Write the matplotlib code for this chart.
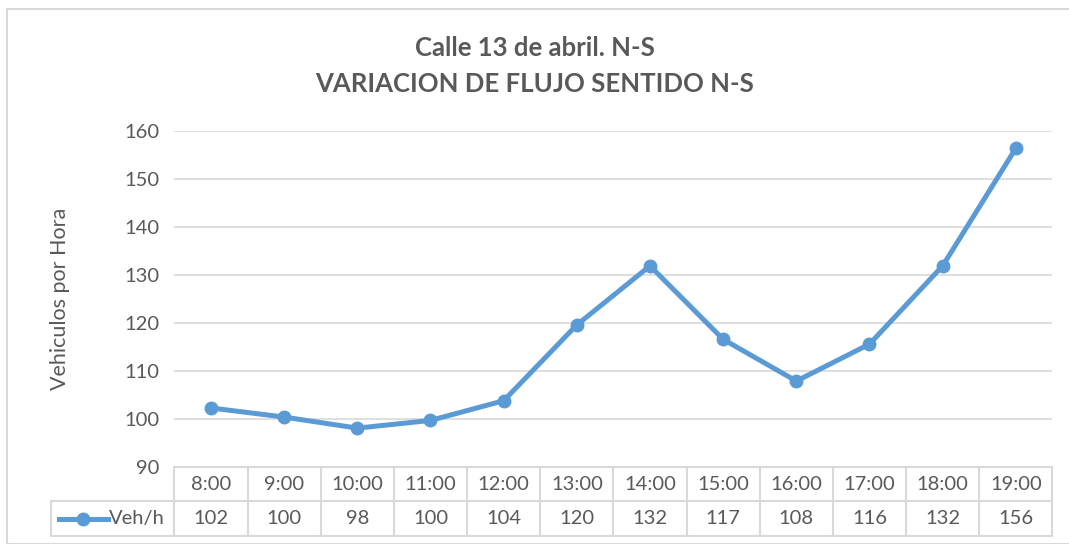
import numpy as np
import matplotlib.pyplot as plt
from matplotlib.patches import Rectangle
from matplotlib.lines import Line2D

# datos
horas = ["8:00", "9:00", "10:00", "11:00", "12:00", "13:00",
         "14:00", "15:00", "16:00", "17:00", "18:00", "19:00"]
veh_h = [102.3, 100.4, 98.1, 99.7, 103.8, 119.6,
         131.9, 116.6, 107.9, 115.6, 131.9, 156.4]
serie = "Veh/h"
titulo = "Calle 13 de abril. N-S\nVARIACION DE FLUJO SENTIDO N-S"
ylabel = "Vehiculos por Hora"
yticks = [90, 100, 110, 120, 130, 140, 150, 160]

azul = "#5B9BD5"
gris_txt = "#595959"
gris_lin = "#D9D9D9"

plt.rcParams['font.family'] = ['Lato', 'DejaVu Sans']

fig = plt.figure(figsize=(10.69, 5.44), dpi=100)
W, H = 1069, 544

# marco del grafico
fig.patches.append(Rectangle((7 / W, 0), 1.2, 1 - 8.7 / H, transform=fig.transFigure,
                             fill=False, edgecolor=gris_lin, lw=1.5))

ax = fig.add_axes([174.4 / W, 77 / H, 878 / W, 336 / H])
x = np.arange(len(horas))
ax.plot(x, veh_h, color=azul, lw=3.6, marker="o", ms=9, zorder=3)

ax.set_xlim(-0.5, len(horas) - 0.5)
ax.set_ylim(90, 160)
ax.set_yticks(yticks)
ax.set_xticks([])
ax.grid(axis="y", color=gris_lin, lw=1.2)
for s in ax.spines.values():
    s.set_visible(False)
ax.tick_params(axis="y", length=0, pad=11, labelsize=14.5, labelcolor=gris_txt)
ax.set_ylabel(ylabel, fontsize=15.5, color=gris_txt, labelpad=39)

fig.text(0.5, 1 - 66 / H, titulo, ha="center", va="center", fontsize=18.5,
         fontweight="bold", color=gris_txt, linespacing=1.55)

# tabla de datos
tr = ax.get_xaxis_transform()
r1 = -34 / 336
r2 = -69 / 336
xl = -2.19
n = len(horas)
kw = dict(transform=tr, color=gris_lin, lw=1.5, clip_on=False)
ax.add_line(Line2D([-0.5, n - 0.5], [0, 0], **kw))
ax.add_line(Line2D([xl, n - 0.5], [r1, r1], **kw))
ax.add_line(Line2D([xl, n - 0.5], [r2, r2], **kw))
ax.add_line(Line2D([xl, xl], [r1, r2], **kw))
for i in range(n + 1):
    ax.add_line(Line2D([i - 0.5, i - 0.5], [0, r2], **kw))
for i, (h, v) in enumerate(zip(horas, veh_h)):
    ax.text(i, r1 / 2, h, transform=tr, ha="center", va="center",
            fontsize=14.5, color=gris_txt)
    ax.text(i, (r1 + r2) / 2, f"{v:.0f}", transform=tr, ha="center",
            va="center", fontsize=14.5, color=gris_txt)
# leyenda en la tabla
ym = (r1 + r2) / 2
ax.add_line(Line2D([-2.08, -1.41], [ym, ym], transform=tr, color=azul, lw=3.6,
                   clip_on=False))
ax.add_line(Line2D([-1.75], [ym], transform=tr, color=azul, marker="o", ms=9,
                   clip_on=False))
ax.text(-1.39, ym, serie, transform=tr, ha="left", va="center",
        fontsize=14.5, color=gris_txt)

fig.savefig("out.png", dpi=100)
